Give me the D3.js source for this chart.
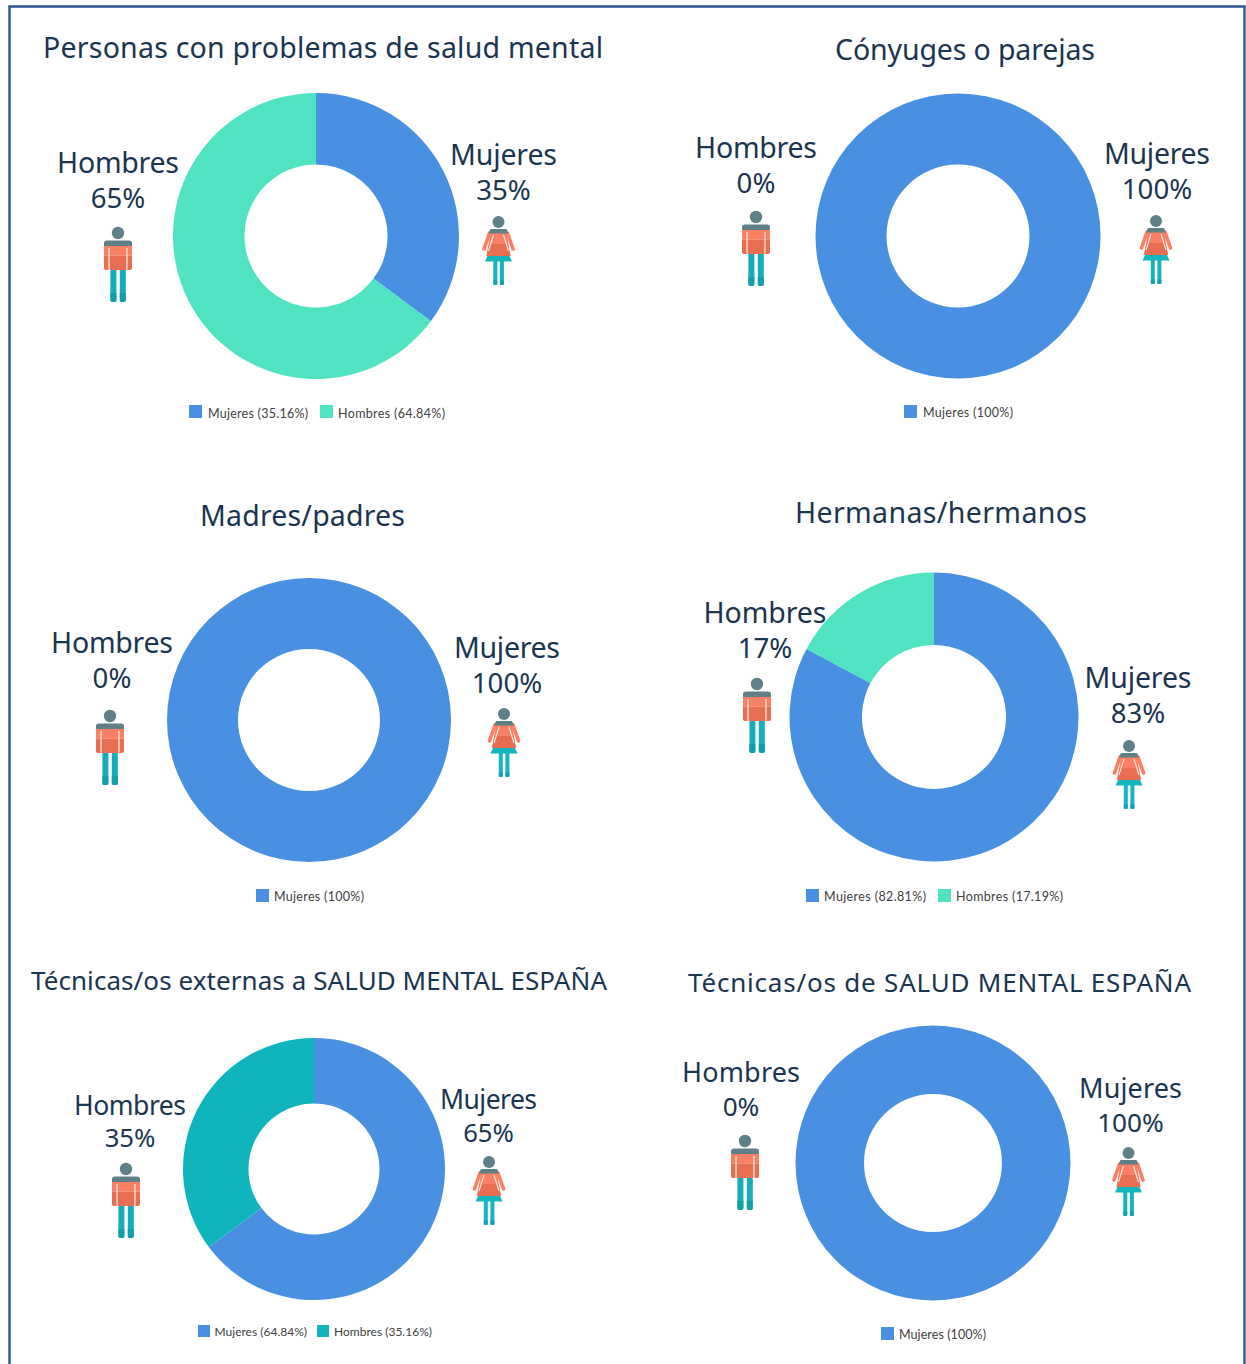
<!DOCTYPE html>
<html><head><meta charset="utf-8">
<script src="https://cdn.jsdelivr.net/npm/d3@7/dist/d3.min.js"></script>
<style>html,body{margin:0;padding:0;background:#fff}svg{display:block}</style></head>
<body><svg id="c" width="1246" height="1364"></svg>
<script>
const titles = ["Personas con problemas de salud mental","Cónyuges o parejas","Madres/padres","Hermanas/hermanos","Técnicas/os externas a SALUD MENTAL ESPAÑA","Técnicas/os de SALUD MENTAL ESPAÑA"];
const mujeresValues = [35.16,100,100,82.81,64.84,100];
const hombresValues = [64.84,0,0,17.19,35.16,0];
const mujeresLabels = ["35%","100%","100%","83%","65%","100%"];
const hombresLabels = ["65%","0%","0%","17%","35%","0%"];
const mujeresLegend = ["Mujeres (35.16%)","Mujeres (100%)","Mujeres (100%)","Mujeres (82.81%)","Mujeres (64.84%)","Mujeres (100%)"];
const hombresLegend = ["Hombres (64.84%)",null,null,"Hombres (17.19%)","Hombres (35.16%)",null];
const hombresColors = ["#50e3c2","#50e3c2","#50e3c2","#50e3c2","#10b4bc","#50e3c2"];
const blue = "#4a90e2", ink = "#1b3550";

// layout
const donuts = [[316,236,143,71.5],[958,236,142.5,71.5],[309,720,142,71],[934,717,144.5,72],[314,1169,131,65.5],[933,1163,137.5,69]];
const titleBox = [[43,603,57.5,28.5],[835,1095,60,28.5],[200,405,525.5,28.5],[795,1087,522.5,28.5],[31,607,989.5,26],[688,1191,991.5,26]];
const hLab = [[118,173,208,122,28.5],[756,158,193,122,28.5],[112,653,688,122,28.5],[765,623,658,123,28.5],[130,1114.5,1146.5,112,26.5],[741,1082,1115.5,118,27]];
const mLab = [[503.5,165,200,107,28.5],[1157,164,199,106,28.5],[507,658,693,106,28.5],[1138,688,723,107,28.5],[488.5,1109,1141.5,97,26.5],[1130.5,1097.5,1131.5,103,27]];
const manPos = [[118,233],[756,217],[110,716],[757,684],[126,1169],[745,1141]];
const womanPos = [[498.5,222],[1156,221],[504,714],[1129,746],[489,1162],[1128.5,1153]];
const legendM = [[189,405,13,208,308,418],[904,405,13,923,1013,417],[256,889,13,274,364,901],[806,889,13,824,926,901],[198,1325,12,214.5,307,1336],[881,1327,13,899,986,1339]];
const legendH = [[320,405,13,338,445,418],null,null,[938,889,13,956,1063,901],[317,1325,12,334,432,1336],null];

const svg = d3.select("#c");
svg.append("path").attr("d","M9.5,1364V6.5H1244.5V1364").attr("fill","none").attr("stroke","#2f5597").attr("stroke-width",2.4);

const pie = d3.pie().sort(null).value(d=>d.v);
const labelText = (x,y,t,w,fs,fam,fill) => {
  const e = svg.append("text").attr("x",x).attr("y",y).text(t)
    .attr("font-family",fam).attr("font-size",fs).attr("fill",fill);
  if (w) e.attr("textLength",w).attr("lengthAdjust","spacing");
  return e;
};

function man(x,y){
  const g = svg.append("g").attr("transform",`translate(${x},${y})`);
  [[-7.6,-1.6],[1.8,7.8]].forEach(([a,b])=>{
    g.append("rect").attr("x",a).attr("y",36).attr("width",b-a).attr("height",33).attr("rx",2).attr("fill","#15adb8");
    g.append("path").attr("d",`M${a},60H${b}V67q0,2 -2,2H${a+2}q-2,0 -2,-2Z`).attr("fill","#129fab");
  });
  g.append("circle").attr("r",6.2).attr("fill","#5f8086");
  g.append("path").attr("d","M-14,10q0,-2.5 3,-2.5H11q3,0 3,2.5V13H-14Z").attr("fill","#5f8086");
  g.append("rect").attr("x",-14).attr("y",13).attr("width",28).attr("height",9.5).attr("fill","#fa7f63");
  g.append("path").attr("d","M-14,22.5H14V35q0,2 -2,2H-12q-2,0 -2,-2Z").attr("fill","#e86e52");
  [-9.6,8.3].forEach(a=>g.append("rect").attr("x",a).attr("y",15).attr("width",1.3).attr("height",22).attr("fill","#fde6de"));
}
function woman(x,y){
  const g = svg.append("g").attr("transform",`translate(${x},${y})`);
  [[-5.2,-1.2],[1.4,5.4]].forEach(([a,b])=>{
    g.append("rect").attr("x",a).attr("y",38).attr("width",b-a).attr("height",25).attr("rx",1.5).attr("fill","#15b5bd");
    g.append("rect").attr("x",a).attr("y",58).attr("width",b-a).attr("height",5).attr("rx",1.5).attr("fill","#12a2ad");
  });
  g.append("circle").attr("r",6).attr("fill","#5f8086");
  [-1,1].forEach(s=>g.append("path").attr("d",`M${s*9},11L${s*14.5},27`).attr("stroke","#fa7f63").attr("stroke-width",3.6).attr("stroke-linecap","round").attr("fill","none"));
  g.append("path").attr("d","M-8,11H8L12,34H-12Z").attr("fill","#fa7f63");
  g.append("path").attr("d","M-9.5,22H9.5L12,34H-12Z").attr("fill","#e86e52");
  g.append("path").attr("d","M-8,7H8L10,11.5H-10Z").attr("fill","#5f8086");
  [-1,1].forEach(s=>g.append("path").attr("d",`M${s*5},13L${s*10},29`).attr("stroke","#fde6de").attr("stroke-width",1.1).attr("fill","none"));
  g.append("path").attr("d","M-11,34H11L13.5,39.5H-13.5Z").attr("fill","#15b5bd");
}

titles.forEach((t,i)=>{
  const [cx,cy,r,ri] = donuts[i];
  const arc = d3.arc().innerRadius(ri).outerRadius(r);
  const data = [{v:mujeresValues[i],c:blue},{v:hombresValues[i],c:hombresColors[i]}];
  svg.append("g").attr("transform",`translate(${cx},${cy})`)
    .selectAll("path").data(pie(data).filter(d=>d.data.v>0)).join("path")
    .attr("d",arc).attr("fill",d=>d.data.c);

  const [x0,x1,by,fs] = titleBox[i];
  labelText(x0,by,t,x1-x0,fs,"'Noto Sans',sans-serif",ink);

  const hl = hLab[i], ml = mLab[i];
  labelText(hl[0]-hl[3]/2,hl[1],"Hombres",hl[3],hl[4],"'Noto Sans',sans-serif",ink);
  labelText(hl[0],hl[2],hombresLabels[i],null,hl[4]*0.97,"'Noto Sans',sans-serif",ink).attr("text-anchor","middle");
  labelText(ml[0]-ml[3]/2,ml[1],"Mujeres",ml[3],ml[4],"'Noto Sans',sans-serif",ink);
  labelText(ml[0],ml[2],mujeresLabels[i],null,ml[4]*0.97,"'Noto Sans',sans-serif",ink).attr("text-anchor","middle");

  man(...manPos[i]);
  woman(...womanPos[i]);

  const leg = (l,txt,col)=>{
    svg.append("rect").attr("x",l[0]).attr("y",l[1]).attr("width",l[2]).attr("height",l[2]).attr("fill",col);
    labelText(l[3],l[5],txt,l[4]-l[3],l[2]===12?12:12.5,"Lato,sans-serif","#404040");
  };
  leg(legendM[i],mujeresLegend[i],blue);
  if (legendH[i]) leg(legendH[i],hombresLegend[i],hombresColors[i]);
});
</script></body></html>
